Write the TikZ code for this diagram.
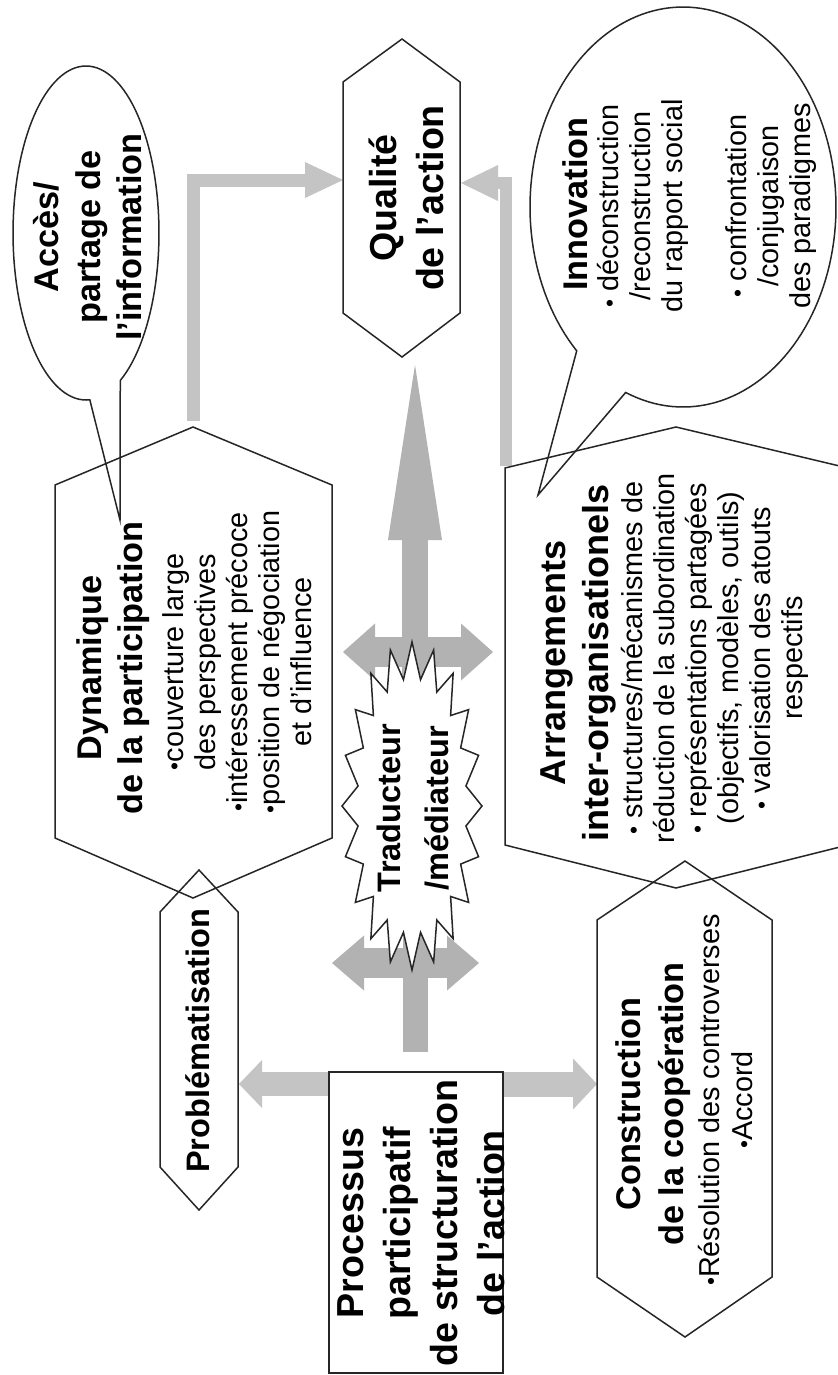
\documentclass[tikz,border=0pt]{standalone}
\usepackage{fontspec}
\setmainfont{Liberation Sans}
\usetikzlibrary{arrows.meta,positioning}
\definecolor{grisclair}{HTML}{C4C4C4}
\definecolor{grisfonce}{HTML}{B2B2B2}
\definecolor{trait}{HTML}{262626}
\newcommand{\puce}{{\fontsize{13}{13}\selectfont\raisebox{0.1ex}{•}}}

\begin{document}
\begin{tikzpicture}[x=0.2mm,y=-0.2mm,line join=miter,
    forme/.style={draw=trait,line width=0.3mm},
    titre/.style={font=\bfseries\fontsize{19.5}{23.6}\selectfont,align=center,rotate=90,inner sep=0pt},
    grand/.style={font=\bfseries\fontsize{21.4}{26.8}\selectfont,align=center,rotate=90,inner sep=0pt},
    puces/.style={font=\fontsize{16.4}{18.2}\selectfont,align=center,rotate=90,inner sep=0pt},
    bloc/.style n args={3}{draw=grisclair,line width=#1,-{Triangle[length=#2,width=#3,line width=0pt]}},
    bloc2/.style n args={3}{draw=grisfonce,line width=#1,{Triangle[length=#2,width=#3,line width=0pt]}-{Triangle[length=#2,width=#3,line width=0pt]}}]
  \useasboundingbox (0,0) rectangle (838,1375);
  \clip (0,0) rectangle (838,1375);
  \fill[white] (0,0) rectangle (838,1375);
  % --- points d'accroche des fleches ---
  \coordinate (qual-o) at (343,180);  \coordinate (qual-e) at (461,183);
  \coordinate (dyn-n) at (193,421);   \coordinate (arr-no) at (506,466);
  \coordinate (pivot) at (415,806);   \coordinate (pointe-q) at (415,365);
  \coordinate (bas-t) at (415,1052);
  \coordinate (g1) at (343,652);      \coordinate (d1) at (493,652);
  \coordinate (g2) at (332,963);      \coordinate (d2) at (479,963);
  \coordinate (proc-o) at (330,1084); \coordinate (proc-e) at (502,1084);
  \coordinate (prob-e) at (239,1084); \coordinate (coop-o) at (597,1084);
  % --- fleches grises ---
  \draw[bloc={2.6mm}{7.6mm}{7.2mm}] (dyn-n) |- (qual-o);
  \draw[bloc={2.4mm}{7.4mm}{7.2mm}] (arr-no) |- (qual-e);
  \draw[bloc={5.2mm}{35mm}{10.8mm},draw=grisfonce] (pivot) -- (pointe-q);
  \draw[grisfonce,line width=5mm] (pivot) -- (bas-t);
  \draw[bloc2={6mm}{6.4mm}{11.4mm}] (g1) -- (d1);
  \draw[bloc2={6mm}{6.4mm}{11mm}] (g2) -- (d2);
  \draw[bloc={4.8mm}{4.6mm}{9.6mm}] (proc-o) -- (prob-e);
  \draw[bloc={5mm}{4.8mm}{10.2mm}] (proc-e) -- (coop-o);
  % --- traducteur (eclat) ---
  \draw[forme,fill=white] plot[samples at={0,...,39}]
        ({412+70*(1-0.22*mod(\x,2))*cos(9*\x)},{806+164*(1-0.22*mod(\x,2))*sin(9*\x)}) -- cycle;
  \node[titre,font=\bfseries\fontsize{18.5}{26.8}\selectfont] (trad) at (413,808) {Traducteur\\/médiateur};
  % --- hexagones et cadre ---
  \draw[forme] (343,82) -- (402,39) -- (460,82) -- (460,313) -- (402,357) -- (343,313) -- cycle;
  \draw[forme] (55,485) -- (193,427) -- (332,485) -- (332,838) -- (193,898) -- (55,838) -- cycle;
  \draw[forme] (505,468) -- (676,427) -- (848,468) -- (848,845) -- (676,888) -- (505,845) -- cycle;
  \draw[forme] (160,912) -- (199,870) -- (238,912) -- (238,1167) -- (199,1210) -- (160,1167) -- cycle;
  \draw[forme] (597,920) -- (685,861) -- (772,920) -- (772,1277) -- (685,1337) -- (597,1277) -- cycle;
  \draw[forme] (329,1072) rectangle (503,1373);
  % --- bulles ---
  \coordinate (acces-q) at (120,520);
  \coordinate (innov-q) at (538,495);
  \draw[forme] plot[domain=87:422,samples=120] ({86+73*cos(\x)},{233+167*sin(\x)}) -- (acces-q) -- cycle;
  \draw[forme] plot[domain=134:472,samples=150] ({683+153*cos(\x)},{207+200*sin(\x)}) -- (innov-q) -- cycle;
  % --- textes ---
  \node[grand] (qual) at (406,198) {Qualité\\de l'action};
  \node[titre] (acces) at (88,237) {Accès/\\partage de\\l'information};
  \node[titre] (dyn) at (113,668) {Dynamique\\de la participation};
  \node[puces] (dyn-p) at (237,662) {\puce couverture large\\des perspectives\\\puce intéressement précoce\\\puce position de négociation\\et d'influence};
  \node[titre] (innov) at (575,204) {Innovation};
  \node[puces] (innov-p) at (707,206) {\puce\ déconstruction\\/reconstruction\\du rapport social\\[18.2pt]\puce\ confrontation\\/conjugaison\\des paradigmes};
  \node[titre,font=\bfseries\fontsize{20.5}{24.5}\selectfont] (arr) at (578,663) {Arrangements\\inter-organisationels};
  \node[puces] (arr-p) at (715,658) {\puce\ structures/mécanismes de\\réduction de la subordination\\\puce\ représentations partagées\\(objectifs, modèles, outils)\\\puce\ valorisation des atouts\\respectifs};
  \node[titre,font=\bfseries\fontsize{18.5}{22}\selectfont] (prob) at (198,1041) {Problématisation};
  \node[grand] (proc) at (421,1223) {Processus\\participatif\\de structuration\\de l'action};
  \node[titre,font=\bfseries\fontsize{19.5}{24.5}\selectfont] (coop) at (653,1104) {Construction\\de la coopération};
  \node[puces,font=\fontsize{16.4}{18.8}\selectfont] (coop-p) at (726,1100) {\puce Résolution des controverses\\\puce Accord};
\end{tikzpicture}
\end{document}
